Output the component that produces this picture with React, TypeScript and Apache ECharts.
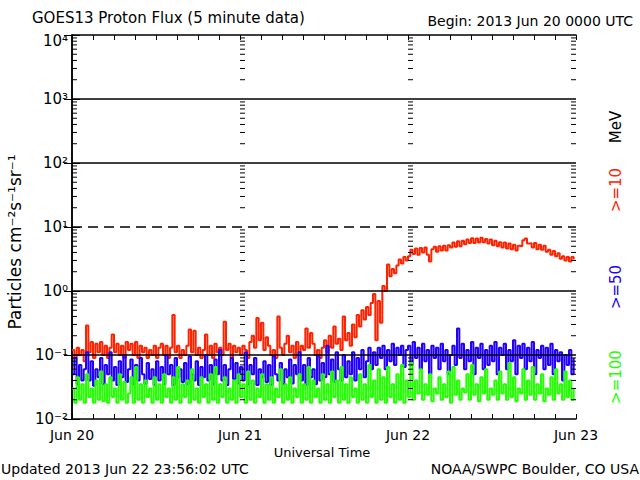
import React, { useEffect, useRef } from "react";
import * as echarts from "echarts";

// ---------- data (20-minute samples starting 2013 Jun 20 00:00 UTC) ----------
const HOURS_PER_SAMPLE = 1 / 3;
const DAY_LABELS = ["Jun 20", "Jun 21", "Jun 22", "Jun 23"];
const Y_TICK_LABELS = ["10\u207B\u00B2", "10\u207B\u00B9", "10\u2070", "10\u00B9", "10\u00B2", "10\u00B3", "10\u2074"];
const THRESHOLDS_SOLID = [1000, 100, 1, 0.1];
const THRESHOLDS_DASHED = [10];

// >=10 MeV
const RED_10MEV = [
  0.12, 0.09, 0.13, 0.10, 0.12, 0.08, 0.29, 0.11, 0.16, 0.09, 0.15, 0.11,
  0.16, 0.10, 0.14, 0.09, 0.13, 0.21, 0.11, 0.15, 0.10, 0.14, 0.09, 0.16,
  0.12, 0.15, 0.10, 0.16, 0.09, 0.14, 0.11, 0.13, 0.09, 0.12, 0.10, 0.14,
  0.09, 0.13, 0.15, 0.10, 0.14, 0.09, 0.13, 0.42, 0.11, 0.14, 0.09, 0.12,
  0.10, 0.14, 0.25, 0.11, 0.24, 0.10, 0.13, 0.09, 0.12, 0.21, 0.10, 0.14,
  0.09, 0.15, 0.11, 0.13, 0.10, 0.33, 0.12, 0.15, 0.09, 0.14, 0.11, 0.13,
  0.10, 0.14, 0.12, 0.09, 0.16, 0.20, 0.13, 0.38, 0.17, 0.32, 0.12, 0.19,
  0.14, 0.10, 0.12, 0.09, 0.40, 0.13, 0.10, 0.15, 0.20, 0.11, 0.14, 0.09,
  0.16, 0.11, 0.14, 0.12, 0.26, 0.13, 0.22, 0.15, 0.10, 0.12, 0.09, 0.13,
  0.17, 0.11, 0.20, 0.13, 0.28, 0.15, 0.18, 0.12, 0.40, 0.17, 0.22, 0.14,
  0.30, 0.19, 0.42, 0.28, 0.50, 0.36, 0.56, 0.42, 0.65, 0.90, 0.17, 0.70,
  0.32, 1.2, 1.0, 2.6, 1.7, 2.2, 1.9, 2.5, 3.1, 2.7, 3.4, 3.0,
  3.5, 4.4, 3.8, 4.6, 3.7, 4.7, 4.0, 4.8, 3.7, 2.9, 4.5, 4.9,
  4.1, 5.0, 4.3, 5.1, 4.3, 5.2, 4.8, 5.7, 4.9, 6.0, 5.0, 6.1,
  5.4, 6.4, 5.6, 6.7, 5.6, 6.6, 5.7, 6.8, 5.8, 6.5, 5.5, 6.4,
  5.2, 6.1, 5.0, 5.8, 4.8, 5.7, 4.6, 5.5, 4.5, 5.3, 4.3, 5.1,
  5.0, 6.2, 6.6, 5.5, 5.6, 4.8, 5.6, 4.5, 5.3, 4.4, 5.1, 4.1,
  4.4, 3.7, 4.2, 3.5, 3.9, 3.2, 3.5, 3.0, 3.4, 2.9, 3.4, 3.1,
];

// >=50 MeV
const BLUE_50MEV = [
  0.05, 0.09, 0.035, 0.07, 0.04, 0.06, 0.11, 0.04, 0.08, 0.033, 0.06, 0.045,
  0.09, 0.035, 0.07, 0.05, 0.11, 0.04, 0.065, 0.034, 0.08, 0.045, 0.1, 0.038,
  0.06, 0.085, 0.035, 0.07, 0.04, 0.09, 0.05, 0.036, 0.075, 0.042, 0.06, 0.034,
  0.08, 0.04, 0.065, 0.035, 0.1, 0.05, 0.07, 0.034, 0.09, 0.045, 0.06, 0.038,
  0.075, 0.035, 0.095, 0.05, 0.04, 0.08, 0.034, 0.065, 0.045, 0.1, 0.04, 0.07,
  0.035, 0.085, 0.05, 0.12, 0.04, 0.07, 0.034, 0.06, 0.09, 0.042, 0.075, 0.036,
  0.065, 0.04, 0.11, 0.035, 0.07, 0.05, 0.09, 0.034, 0.06, 0.045, 0.08, 0.038,
  0.07, 0.034, 0.095, 0.05, 0.04, 0.075, 0.035, 0.06, 0.045, 0.085, 0.036, 0.07,
  0.05, 0.11, 0.04, 0.07, 0.034, 0.09, 0.045, 0.06, 0.035, 0.1, 0.04, 0.075,
  0.045, 0.14, 0.05, 0.085, 0.038, 0.11, 0.06, 0.04, 0.1, 0.045, 0.08, 0.05,
  0.11, 0.04, 0.09, 0.06, 0.12, 0.045, 0.08, 0.13, 0.06, 0.11, 0.07, 0.13,
  0.09, 0.14, 0.06, 0.12, 0.08, 0.15, 0.07, 0.13, 0.1, 0.14, 0.065, 0.12,
  0.14, 0.07, 0.16, 0.09, 0.13, 0.06, 0.15, 0.08, 0.12, 0.05, 0.14, 0.09,
  0.13, 0.06, 0.15, 0.08, 0.12, 0.05, 0.1, 0.14, 0.07, 0.26, 0.09, 0.15,
  0.06, 0.12, 0.08, 0.16, 0.05, 0.13, 0.09, 0.15, 0.06, 0.12, 0.07, 0.14,
  0.08, 0.16, 0.05, 0.13, 0.1, 0.15, 0.06, 0.12, 0.08, 0.17, 0.05, 0.14,
  0.09, 0.15, 0.06, 0.13, 0.08, 0.16, 0.05, 0.12, 0.09, 0.14, 0.06, 0.13,
  0.07, 0.15, 0.05, 0.12, 0.08, 0.11, 0.04, 0.1, 0.07, 0.12, 0.05, 0.09,
];

// >=100 MeV
const GREEN_100MEV = [
  0.03, 0.018, 0.045, 0.02, 0.035, 0.018, 0.05, 0.022, 0.03, 0.018, 0.04, 0.02,
  0.055, 0.019, 0.035, 0.018, 0.045, 0.022, 0.03, 0.018, 0.05, 0.02, 0.038, 0.018,
  0.025, 0.045, 0.018, 0.065, 0.02, 0.035, 0.018, 0.04, 0.022, 0.03, 0.018, 0.045,
  0.02, 0.035, 0.018, 0.05, 0.022, 0.03, 0.018, 0.045, 0.02, 0.065, 0.018, 0.035,
  0.022, 0.04, 0.018, 0.06, 0.02, 0.03, 0.018, 0.045, 0.022, 0.035, 0.018, 0.05,
  0.02, 0.065, 0.018, 0.035, 0.022, 0.045, 0.018, 0.03, 0.02, 0.04, 0.018, 0.05,
  0.022, 0.035, 0.018, 0.055, 0.02, 0.04, 0.018, 0.03, 0.022, 0.05, 0.018, 0.035,
  0.02, 0.045, 0.018, 0.03, 0.022, 0.06, 0.018, 0.035, 0.02, 0.045, 0.018, 0.03,
  0.022, 0.05, 0.018, 0.035, 0.02, 0.065, 0.018, 0.04, 0.022, 0.03, 0.018, 0.05,
  0.02, 0.035, 0.018, 0.055, 0.022, 0.04, 0.018, 0.065, 0.02, 0.035, 0.018, 0.045,
  0.022, 0.03, 0.018, 0.05, 0.02, 0.035, 0.018, 0.07, 0.022, 0.04, 0.018, 0.06,
  0.02, 0.045, 0.018, 0.065, 0.022, 0.035, 0.018, 0.05, 0.02, 0.07, 0.018, 0.04,
  0.022, 0.075, 0.02, 0.04, 0.025, 0.06, 0.02, 0.035, 0.024, 0.05, 0.019, 0.03,
  0.025, 0.045, 0.02, 0.035, 0.022, 0.055, 0.018, 0.065, 0.024, 0.04, 0.02, 0.03,
  0.026, 0.05, 0.02, 0.07, 0.024, 0.035, 0.019, 0.045, 0.025, 0.06, 0.02, 0.03,
  0.024, 0.04, 0.02, 0.055, 0.025, 0.035, 0.02, 0.075, 0.022, 0.045, 0.019, 0.03,
  0.025, 0.06, 0.02, 0.04, 0.024, 0.065, 0.02, 0.035, 0.025, 0.05, 0.019, 0.03,
  0.024, 0.045, 0.02, 0.06, 0.025, 0.035, 0.02, 0.055, 0.022, 0.04, 0.02, 0.03,
];

// minor-tick columns (hours) and log mantissas
const TICK_COLUMNS = [0, 24, 48, 72];
const TICK_MANTISSAS = [2, 3, 4, 5, 6, 7, 8, 9];
const TICK_DECADES = [-2, -1, 0, 1, 2, 3];

const FONT = '"DejaVu Sans", sans-serif';
const RED = "#ff2200";
const BLUE = "#2200ff";
const GREEN = "#22ff00";

const toPoints = (arr: number[]) => arr.map((v, i) => [i * HOURS_PER_SAMPLE, v]);

export default function App() {
  const ref = useRef<HTMLDivElement>(null);

  useEffect(() => {
    if (!ref.current) return;
    const chart = echarts.init(ref.current, undefined, { renderer: "svg" });

    const minorTicks: number[][] = [];
    TICK_COLUMNS.forEach((c) =>
      TICK_DECADES.forEach((d) =>
        TICK_MANTISSAS.forEach((m) => minorTicks.push([c, m * Math.pow(10, d)]))
      )
    );

    const xAxisBase = {
      type: "value",
      min: 0,
      max: 72,
      interval: 3,
      axisLine: { show: true, lineStyle: { color: "#000", width: 1.5 } },
      axisTick: { show: true, inside: true, length: 5, lineStyle: { color: "#000", width: 1 } },
      splitLine: { show: false },
    };
    const yAxisBase = {
      type: "log",
      logBase: 10,
      min: 0.01,
      max: 10000,
      splitNumber: 6,
      axisLine: { show: true, lineStyle: { color: "#000", width: 1.5 } },
      axisTick: { show: true, inside: true, length: 8, lineStyle: { color: "#000", width: 1 } },
      splitLine: { show: false },
    };

    const textEl = (text: string, x: number, y: number, opts: any = {}) => ({
      type: "text",
      x,
      y,
      rotation: opts.rotation || 0,
      style: {
        text,
        fill: opts.fill || "#000",
        font: `${opts.size || 14}px ${FONT}`,
        textAlign: opts.align || "left",
        textVerticalAlign: "middle",
        verticalAlign: "middle",
      },
    });

    const lineSeries = (name: string, values: number[], color: string, z: number) => ({
      name,
      type: "line",
      data: toPoints(values),
      step: "end",
      showSymbol: false,
      symbol: "none",
      lineStyle: { color, width: 2 },
      itemStyle: { color },
      z,
    });

    const option: any = {
      animation: false,
      backgroundColor: "#fff",
      grid: { left: 72, right: 64, top: 35, bottom: 61, containLabel: false },
      xAxis: [
        {
          ...xAxisBase,
          position: "bottom",
          axisLabel: {
            show: true,
            color: "#000",
            fontFamily: FONT,
            fontSize: 14,
            margin: 9,
            showMinLabel: true,
            showMaxLabel: true,
            formatter: (v: number) => (v % 24 === 0 ? DAY_LABELS[v / 24] : ""),
          },
        },
        { ...xAxisBase, position: "top", axisLabel: { show: false } },
      ],
      yAxis: [
        {
          ...yAxisBase,
          position: "left",
          axisLabel: {
            show: true,
            color: "#000",
            fontFamily: FONT,
            fontSize: 15,
            margin: 4,
            formatter: (v: number) => {
              const e = Math.round(Math.log10(v));
              const t = Y_TICK_LABELS[e + 2] || "";
              return e === 4 ? `{top|${t}}` : t;
            },
            rich: {
              top: { fontFamily: FONT, fontSize: 15, color: "#000", padding: [12, 0, 0, 0] },
            },
          },
        },
        { ...yAxisBase, position: "right", axisLabel: { show: false } },
      ],
      graphic: [
        textEl("GOES13 Proton Flux (5 minute data)", 32, 18, { size: 15 }),
        textEl("Begin: 2013 Jun 20 0000 UTC", 633, 21, { size: 14, align: "right" }),
        textEl("Universal Time", 322, 452, { size: 13, align: "center" }),
        textEl("Updated 2013 Jun 22 23:56:02 UTC", 1, 469, { size: 14 }),
        textEl("NOAA/SWPC Boulder, CO USA", 639, 469, { size: 14, align: "right" }),
        textEl("Particles cm\u207B\u00B2s\u207B\u00B9sr\u207B\u00B9", 15, 242, {
          size: 17,
          align: "center",
          rotation: Math.PI / 2,
        }),
        textEl("MeV", 616, 127, { size: 15, align: "center", rotation: Math.PI / 2 }),
        textEl(">=10", 616, 190, { size: 15, align: "center", rotation: Math.PI / 2, fill: RED }),
        textEl(">=50", 616, 287, { size: 15, align: "center", rotation: Math.PI / 2, fill: BLUE }),
        textEl(">=100", 616, 377, { size: 15, align: "center", rotation: Math.PI / 2, fill: GREEN }),
      ],
      series: [
        lineSeries(">=10 MeV", RED_10MEV, RED, 2),
        lineSeries(">=50 MeV", BLUE_50MEV, BLUE, 3),
        {
          ...lineSeries(">=100 MeV", GREEN_100MEV, GREEN, 4),
          markLine: {
            silent: true,
            symbol: ["none", "none"],
            label: { show: false },
            lineStyle: { color: "#000", width: 1.5, type: "solid" },
            data: [
              ...THRESHOLDS_SOLID.map((v) => ({ yAxis: v })),
              ...THRESHOLDS_DASHED.map((v) => ({
                yAxis: v,
                lineStyle: { color: "#000", width: 1.5, type: [10, 6] },
              })),
            ],
          },
        },
        {
          name: "ticks",
          type: "custom",
          data: minorTicks,
          z: 6,
          silent: true,
          clip: false,
          renderItem: (params: any, api: any) => {
            const x = api.value(0);
            const v = api.value(1);
            const p = api.coord([x, v]);
            const dir = x >= 72 ? -1 : 1;
            return {
              type: "line",
              shape: { x1: p[0], y1: p[1], x2: p[0] + dir * 5, y2: p[1] },
              style: { stroke: "#000", lineWidth: 1 },
            };
          },
        },
      ],
    };

    chart.setOption(option);
    return () => chart.dispose();
  }, []);

  return (
    <div
      ref={ref}
      style={{ position: "fixed", left: 0, top: 0, width: 640, height: 480, background: "#fff" }}
    />
  );
}
